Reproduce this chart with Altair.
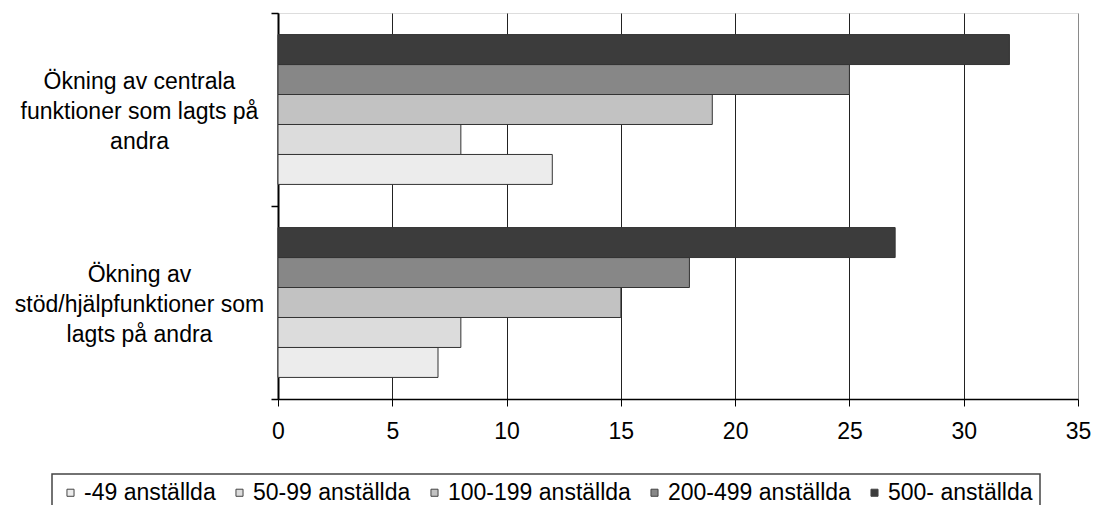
import altair as alt
import pandas as pd

# Categories (y axis) and company-size series
categories = [
    "Ökning av centrala funktioner som lagts på andra",
    "Ökning av stöd/hjälpfunktioner som lagts på andra",
]
category_lines = [
    ["Ökning av centrala", "funktioner som lagts på", "andra"],
    ["Ökning av", "stöd/hjälpfunktioner som", "lagts på andra"],
]
sizes = ["-49 anställda", "50-99 anställda", "100-199 anställda",
         "200-499 anställda", "500- anställda"]

# Values per size class, in the order of `sizes`
central = [12, 8, 19, 25, 32]
support = [7, 8, 15, 18, 27]

x_ticks = [0, 5, 10, 15, 20, 25, 30, 35]
fills = ["#ececec", "#dcdcdc", "#c2c2c2", "#878787", "#3c3c3c"]

rows = []
for cat, vals in zip(categories, [central, support]):
    for s, v in zip(sizes, vals):
        rows.append({"kategori": cat, "storlek": s, "andel": v})
df = pd.DataFrame(rows)

font = "Liberation Sans"

# multi-line category labels; the extra boundary tick gets no label
label_expr = (
    f"datum.value == '{categories[0]}' ? {category_lines[0]!r} : "
    f"datum.value == '{categories[1]}' ? {category_lines[1]!r} : ''"
)
legend_expr = f"datum.label == '{sizes[0]}' ? '\u00a0\u00a0' + datum.label : datum.label"

chart = alt.Chart(df).mark_bar(stroke="#333333", strokeWidth=1).encode(
    x=alt.X(
        "andel:Q",
        scale=alt.Scale(domain=[0, 35], nice=False, zero=True),
        axis=alt.Axis(
            values=x_ticks, title=None, grid=True,
            gridColor=alt.condition("datum.value >= 35", alt.value("#8a8a8a"), alt.value("#222222")),
            gridWidth=1, domainColor="#000000", domainWidth=1.5,
            tickColor="#000000", tickSize=7, tickWidth=1,
            labelFontSize=23, labelFont=font, labelColor="#000000",
            labelPadding=14, labelFlush=False,
        ),
    ),
    y=alt.Y(
        "kategori:N", sort=categories,
        scale=alt.Scale(paddingInner=0, paddingOuter=0),
        axis=alt.Axis(
            title=None, tickBand="extent", tickSize=7, tickColor="#000000",
            tickWidth=1.5, domainColor="#000000", domainWidth=2,
            labelExpr=label_expr, labelAlign="center", labelBaseline="middle",
            labelPadding=132, labelOffset=-28, labelFontSize=23, labelFont=font,
            labelColor="#000000", labelLineHeight=30, labelLimit=0,
        ),
    ),
    yOffset=alt.YOffset(
        "storlek:N", sort=list(reversed(sizes)),
        scale=alt.Scale(paddingInner=0, paddingOuter=0.72),
    ),
    color=alt.Color(
        "storlek:N",
        scale=alt.Scale(domain=sizes, range=fills),
        legend=alt.Legend(
            title=None, orient="none", legendX=-226, legendY=461,
            direction="horizontal", columns=5, symbolType="square",
            symbolSize=50, symbolStrokeColor="#444444", symbolStrokeWidth=1,
            labelFontSize=23, labelFont=font, labelColor="#000000",
            labelOffset=2, columnPadding=12, padding=7,
            strokeColor="#444444", fillColor="#ffffff",
            labelLimit=0, labelExpr=legend_expr,
        ),
    ),
).properties(
    width=800,
    height=386,
    autosize=alt.AutoSizeParams(type="none"),
    padding={"left": 278, "top": 13, "right": 16, "bottom": 106},
).configure_view(
    stroke="#8a8a8a", strokeWidth=2
).configure(
    font=font, background="#ffffff"
).configure_legend(
    strokeWidth=1.5
)

chart.save("out.html", embed_options={"renderer": "svg", "actions": False})
